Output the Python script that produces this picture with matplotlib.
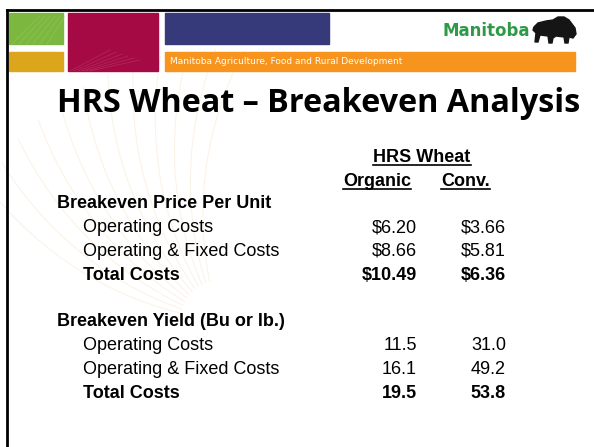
import numpy as np
import matplotlib
matplotlib.use("Agg")
import matplotlib.pyplot as plt
from matplotlib.patches import Rectangle, Polygon

# slide content
title = "HRS Wheat \u2013 Breakeven Analysis"
group_header = "HRS Wheat"
col_headers = ["Organic", "Conv."]

price_heading = "Breakeven Price Per Unit"
yield_heading = "Breakeven Yield (Bu or lb.)"
row_labels = ["Operating Costs", "Operating & Fixed Costs", "Total Costs"]

organic_price = [6.20, 8.66, 10.49]
conv_price = [3.66, 5.81, 6.36]
organic_yield = [11.5, 16.1, 19.5]
conv_yield = [31.0, 49.2, 53.8]

W, H = 594, 447
fig = plt.figure(figsize=(W / 100, H / 100), dpi=100)
ax = fig.add_axes([0, 0, 1, 1])
ax.set_xlim(0, W)
ax.set_ylim(H, 0)
ax.axis("off")

# faint sunburst behind the title (left side)
for ang in np.linspace(190, 255, 12):
    t = np.linspace(0, 1, 50)
    r = 40 + 230 * t
    a = np.deg2rad(ang + 20 * t)
    ax.plot(220 + r * np.cos(a), 320 + r * np.sin(a), color="#f9e7cf",
            lw=0.8, alpha=0.5, zorder=0)

# banner blocks
ax.add_patch(Rectangle((9, 13), 54, 31, color="#7cb840", zorder=1))
ax.add_patch(Rectangle((9, 52), 54, 19, color="#dba51c", zorder=1))
ax.add_patch(Rectangle((68, 13), 90, 58, color="#a50a44", zorder=1))
ax.add_patch(Rectangle((165, 13), 164, 31, color="#363a7a", zorder=1))
ax.add_patch(Rectangle((165, 52), 410, 19, color="#f7941e", zorder=1))
for k in range(6):
    ax.plot([70 + k * 4, 110 + k * 6], [71, 50 + k * 2], color="#c45c7c", lw=0.5, alpha=0.4, zorder=2)
    ax.plot([12 + k * 7, 40 + k * 5], [44, 16], color="#a9d46e", lw=0.6, alpha=0.35, zorder=2)

ax.text(170, 62, "Manitoba Agriculture, Food and Rural Development", color="white",
        fontsize=6.5, family=["Liberation Sans Narrow", "DejaVu Sans"], va="center", ha="left", zorder=3)
ax.text(442, 31, "Manitoba", color="#2e9a48", fontsize=12, fontweight="bold",
        family="DejaVu Sans", va="center", ha="left", zorder=3)

bison = [(534, 27), (538, 23), (546, 21), (553, 20), (558, 17), (564, 17), (569, 20),
         (572, 24), (575, 28), (576, 34), (573, 38), (569, 37), (568, 43), (565, 43),
         (564, 37), (556, 36), (553, 38), (552, 43), (549, 43), (548, 36), (540, 35),
         (538, 42), (535, 42), (536, 33), (533, 30)]
ax.add_patch(Polygon(bison, closed=True, color="#151515", zorder=3))

# frame
ax.plot([7, W], [10, 10], color="black", lw=2, zorder=4)
ax.plot([7, 7], [10, H], color="black", lw=2, zorder=4)

# title
ax.text(57, 103, title, fontsize=23.3, fontweight="bold", family="Open Sans",
        va="center", ha="left", color="black", zorder=3)

arial = "Liberation Sans"
fs = 13
col_x = [417, 506]
head_x = [377, 465.5]

texts_to_underline = []
texts_to_underline.append(ax.text(422, 157, group_header, fontsize=fs, fontweight="bold",
                                  family=arial, ha="center", va="center"))
for x, h in zip(head_x, col_headers):
    texts_to_underline.append(ax.text(x, 181, h, fontsize=fs, fontweight="bold",
                                      family=arial, ha="center", va="center"))


def block(y0, heading, org, conv, fmt):
    ax.text(57, y0, heading, fontsize=fs, fontweight="bold", family=arial, va="center")
    for i, lab in enumerate(row_labels):
        y = y0 + 23.7 * (i + 1)
        w = "bold" if i == len(row_labels) - 1 else "normal"
        ax.text(83, y, lab, fontsize=fs, fontweight=w, family=arial, va="center")
        for x, v in zip(col_x, [org[i], conv[i]]):
            ax.text(x, y, fmt.format(v), fontsize=fs, fontweight=w, family=arial,
                    va="center", ha="right")


block(204, price_heading, organic_price, conv_price, "${:.2f}")
block(322, yield_heading, organic_yield, conv_yield, "{:.1f}")

# underlines measured from the rendered text
fig.canvas.draw()
r = fig.canvas.get_renderer()
inv = ax.transData.inverted()
for t in texts_to_underline:
    bb = t.get_window_extent(r)
    (x0, y0), (x1, y1) = inv.transform([(bb.x0, bb.y0), (bb.x1, bb.y1)])
    ax.plot([x0, x1], [y0 - 1, y0 - 1], color="black", lw=1.2)

fig.savefig("out.png", dpi=100)
